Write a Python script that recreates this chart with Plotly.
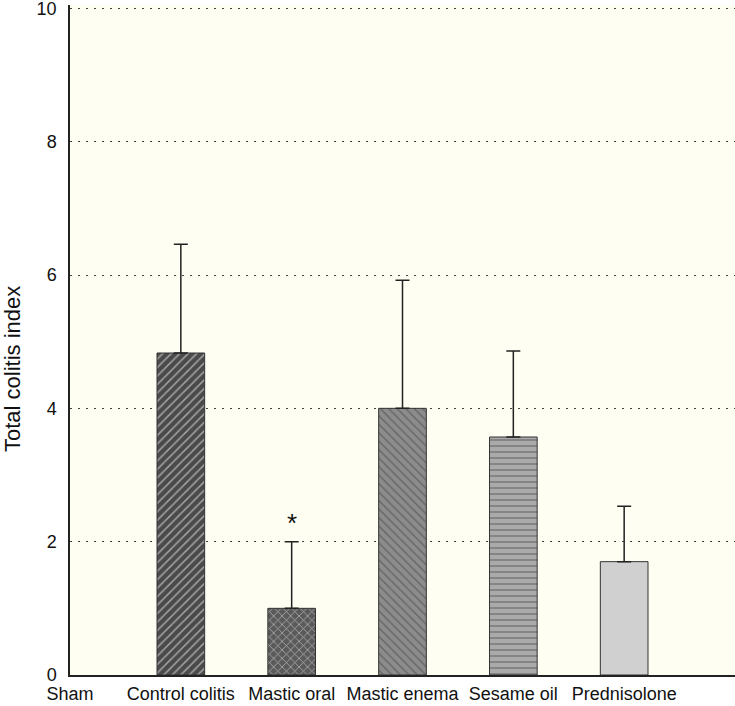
import plotly.graph_objects as go

categories = ["Sham", "Control colitis", "Mastic oral", "Mastic enema", "Sesame oil", "Prednisolone"]
means = [None, 4.83, 1.0, 4.0, 3.57, 1.7]
sem_upper = [None, 1.63, 1.0, 1.92, 1.29, 0.83]
bar_colors = ["#ffffff", "#4a4a4a", "#5a5a5a", "#8c8c8c", "#aaaaaa", "#d0d0d0"]
bar_patterns = ["", "/", "x", "\\", "-", ""]
y_ticks = [0, 2, 4, 6, 8, 10]

fig = go.Figure()
fig.add_trace(go.Bar(
    x=categories,
    y=means,
    width=0.43,
    marker=dict(
        color=bar_colors,
        line=dict(color="#333333", width=1),
        pattern=dict(shape=bar_patterns, fgcolor="#000000",
                     fillmode="overlay", size=6, solidity=0.25),
    ),
    error_y=dict(type="data", symmetric=False, array=sem_upper,
                 arrayminus=[0] * len(categories),
                 color="#222222", thickness=1.5, width=7),
    showlegend=False,
))

fig.add_annotation(x="Mastic oral", y=2.28, text="*", showarrow=False,
                   font=dict(size=26, color="#111111", family="Liberation Sans, Arial"))

fig.add_annotation(xref="paper", yref="paper", x=(12 - 70) / 665, y=(675 - 369) / 670,
                   text="Total colitis index", textangle=-90, showarrow=False,
                   xanchor="center", yanchor="middle",
                   font=dict(size=22, color="#111111", family="Liberation Sans, Arial"))

fig.update_layout(
    width=735, height=706,
    margin=dict(l=70, r=0, t=5, b=31),
    paper_bgcolor="#ffffff",
    plot_bgcolor="#fefef2",
    font=dict(family="Liberation Sans, Arial", size=18, color="#111111"),
    bargap=0.57,
)
fig.update_xaxes(
    range=[0, 6], type="category",
    showline=True, linecolor="#222222", linewidth=1.5,
    showgrid=False, ticks="", tickfont=dict(size=18), ticklabelstandoff=2,
)
fig.update_yaxes(
    range=[0, 10.05], tickvals=y_ticks,
    showline=True, linecolor="#222222", linewidth=1.5,
    showgrid=True, gridcolor="#444444", griddash="2px,6px", gridwidth=1,
    zeroline=False, ticks="", ticklabelstandoff=8, ticklabeloverflow="allow",
    tickfont=dict(size=18),
)

fig.write_html("out.html", config={"displayModeBar": False},
               post_script="document.body.style.margin='0';")
